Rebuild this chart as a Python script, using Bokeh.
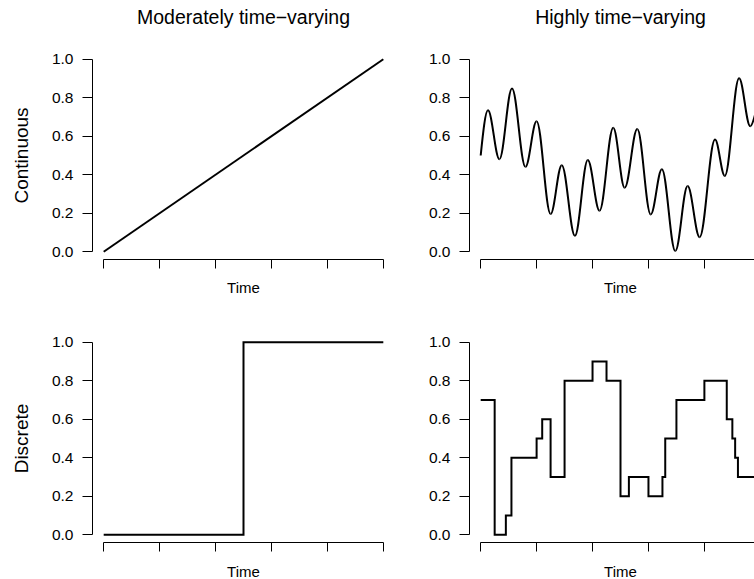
from bokeh.plotting import figure
from bokeh.layouts import column, row
from bokeh.models import FixedTicker, NumeralTickFormatter, Range1d, ColumnDataSource
from bokeh.core.properties import value
from bokeh.embed import file_html
from bokeh.resources import INLINE

FONT = "Liberation Sans"

# ---------------- data ----------------
col_titles = ["Moderately time\u2212varying", "Highly time\u2212varying"]
row_labels = ["Continuous", "Discrete"]
x_label = "Time"
y_ticks = [0.0, 0.2, 0.4, 0.6, 0.8, 1.0]
x_ticks = [0.0, 0.2, 0.4, 0.6, 0.8, 1.0]

# moderately varying, continuous
lin_time = [0.0, 1.0]
lin_value = [0.0, 1.0]

# highly varying, continuous: start point then successive peaks / troughs
osc_time = [0.000, 0.026, 0.067, 0.112, 0.160, 0.200, 0.250, 0.290, 0.337, 0.383,
            0.425, 0.474, 0.515, 0.560, 0.608, 0.648, 0.696, 0.740, 0.783, 0.838,
            0.873, 0.924, 0.964, 1.000]
osc_value = [0.500, 0.735, 0.481, 0.848, 0.441, 0.678, 0.196, 0.450, 0.083, 0.476,
             0.213, 0.644, 0.332, 0.637, 0.194, 0.429, 0.004, 0.341, 0.076, 0.583,
             0.394, 0.901, 0.652, 0.780]

# moderately varying, discrete
jump_time = [0.0, 0.5, 1.0]
jump_value = [0.0, 1.0, 1.0]

# highly varying, discrete
steps_time = [0.00, 0.05, 0.09, 0.11, 0.20, 0.22, 0.25, 0.30, 0.40, 0.45, 0.50,
              0.53, 0.60, 0.65, 0.66, 0.70, 0.80, 0.88, 0.90, 0.91, 0.92, 1.00]
steps_value = [0.7, 0.0, 0.1, 0.4, 0.5, 0.6, 0.3, 0.8, 0.9, 0.8, 0.2,
               0.3, 0.2, 0.3, 0.5, 0.7, 0.8, 0.6, 0.5, 0.4, 0.3, 0.3]

# ---------------- layout constants ----------------
FRAME_H = 208
LEFT_FRAME_W = 302
RIGHT_FRAME_W = 285
PX_X = LEFT_FRAME_W / 1.08
RIGHT_X_END = -0.04 + RIGHT_FRAME_W / PX_X
LEFT_B = (92, 30)     # left / right border of left column
RIGHT_B = (45, 0)     # left / right border of right column


def panel(frame_w, x_end, borders, b_top, b_bottom, ylab=None):
    p = figure(frame_width=frame_w, frame_height=FRAME_H,
               x_range=Range1d(-0.04, x_end), y_range=Range1d(-0.04, 1.04),
               output_backend="svg", toolbar_location=None,
               min_border_left=borders[0], min_border_right=borders[1],
               min_border_top=b_top, min_border_bottom=b_bottom,
               background_fill_color="white", border_fill_color="white")
    p.outline_line_color = None
    p.grid.visible = False
    p.title.visible = False

    xa = p.xaxis[0]
    xa.ticker = FixedTicker(ticks=x_ticks)
    xa.bounds = (0, 1)
    xa.major_tick_in = 0
    xa.major_tick_out = 9
    xa.minor_tick_line_color = None
    xa.major_label_text_font_size = "1px"
    xa.major_label_text_color = None
    xa.major_label_standoff = 0
    xa.axis_line_color = "black"
    xa.major_tick_line_color = "black"

    ya = p.yaxis[0]
    ya.ticker = FixedTicker(ticks=y_ticks)
    ya.formatter = NumeralTickFormatter(format="0.0")
    ya.bounds = (0, 1)
    ya.major_tick_in = 0
    ya.major_tick_out = 10
    ya.minor_tick_line_color = None
    ya.major_label_standoff = 9
    ya.major_label_text_font = FONT
    ya.major_label_text_font_size = "15.5px"
    ya.major_label_text_color = "black"
    ya.axis_line_color = "black"
    ya.major_tick_line_color = "black"
    if ylab:
        ya.axis_label = ylab
        ya.axis_label_standoff = 17
        ya.axis_label_text_font = FONT
        ya.axis_label_text_font_size = "19px"
        ya.axis_label_text_font_style = "normal"
        ya.axis_label_text_color = "black"
    return p


def strip(frame_w, x_end, borders, height, text, y_px, size):
    """A text-only band sharing the x scale of the panel below/above it."""
    s = figure(frame_width=frame_w, frame_height=height,
               x_range=Range1d(-0.04, x_end), y_range=Range1d(height, 0),
               x_axis_type=None, y_axis_type=None,
               output_backend="svg", toolbar_location=None,
               min_border_left=borders[0], min_border_right=borders[1],
               min_border_top=0, min_border_bottom=0,
               background_fill_color="white", border_fill_color="white")
    s.outline_line_color = None
    s.title.visible = False
    s.text(x=[0.5], y=[y_px], text=[text], text_align="center",
           text_baseline="middle", text_font=value(FONT),
           text_font_size=value(size), text_color="black")
    return s


# column titles
t1 = strip(LEFT_FRAME_W, 1.04, LEFT_B, 40, col_titles[0], 16.5, "19.5px")
t2 = strip(RIGHT_FRAME_W, RIGHT_X_END, RIGHT_B, 40, col_titles[1], 16.5, "19.5px")

# panels
p1 = panel(LEFT_FRAME_W, 1.04, LEFT_B, 11, 12, ylab=row_labels[0])
p2 = panel(RIGHT_FRAME_W, RIGHT_X_END, RIGHT_B, 11, 12)
p3 = panel(LEFT_FRAME_W, 1.04, LEFT_B, 23, 12, ylab=row_labels[1])
p4 = panel(RIGHT_FRAME_W, RIGHT_X_END, RIGHT_B, 23, 12)

# "Time" labels under each panel
x1a = strip(LEFT_FRAME_W, 1.04, LEFT_B, 40, x_label, 16.0, "15px")
x2a = strip(RIGHT_FRAME_W, RIGHT_X_END, RIGHT_B, 40, x_label, 16.0, "15px")
x1b = strip(LEFT_FRAME_W, 1.04, LEFT_B, 25, x_label, 16.5, "15px")
x2b = strip(RIGHT_FRAME_W, RIGHT_X_END, RIGHT_B, 25, x_label, 16.5, "15px")

# top-left: straight line
p1.line(lin_time, lin_value, line_color="black", line_width=2)

# top-right: smooth oscillation through the read extrema (cubic Bezier per half wave)
K = 0.363
x0 = osc_time[:-1]
x1 = osc_time[1:]
y0 = osc_value[:-1]
y1 = osc_value[1:]
cx0 = [a + K * (b - a) for a, b in zip(x0, x1)]
cx1 = [b - K * (b - a) for a, b in zip(x0, x1)]
cy0 = list(y0)
cy1 = list(y1)
# first point is mid-rise, not an extremum: give it a rising tangent
cx0[0] = x0[0] + 0.3 * (x1[0] - x0[0])
cy0[0] = y0[0] + 0.47 * (y1[0] - y0[0])
src = ColumnDataSource(dict(x0=x0, y0=y0, x1=x1, y1=y1, cx0=cx0, cy0=cy0, cx1=cx1, cy1=cy1))
p2.bezier(x0="x0", y0="y0", x1="x1", y1="y1", cx0="cx0", cy0="cy0", cx1="cx1", cy1="cy1",
          source=src, line_color="black", line_width=2)

# bottom-left: single jump
p3.step(jump_time, jump_value, mode="after", line_color="black", line_width=2,
        line_join="miter")

# bottom-right: many steps
p4.step(steps_time, steps_value, mode="after", line_color="black", line_width=2,
        line_join="miter")

layout = column(row(t1, t2), row(p1, p2), row(x1a, x2a),
                row(p3, p4), row(x1b, x2b))

open("out.html", "w").write(file_html(layout, INLINE))
